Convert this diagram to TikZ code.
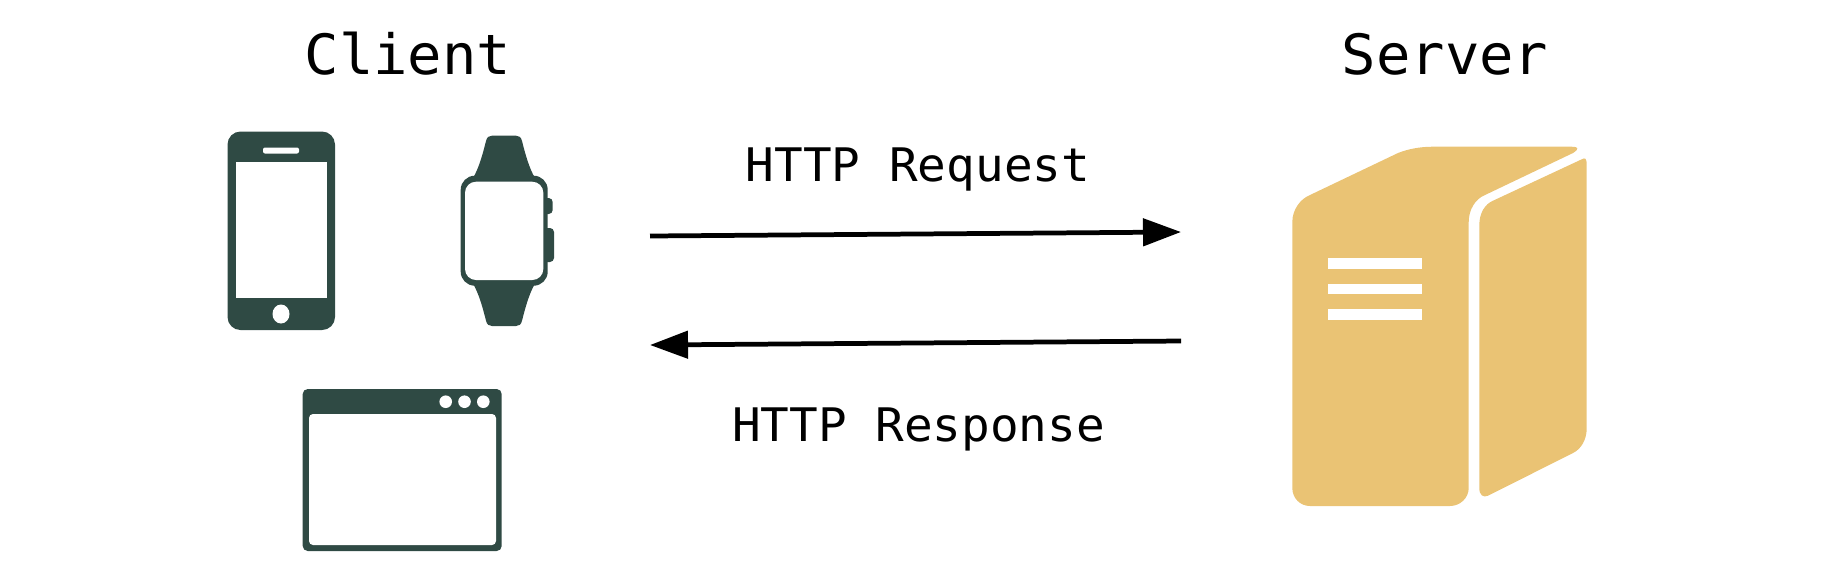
\documentclass[tikz,border=0pt]{standalone}
\usepackage{fontspec}
\setmonofont[FakeStretch=1.03]{DejaVu Sans Mono}
\usetikzlibrary{arrows.meta}
\definecolor{icongreen}{HTML}{2F4A44}
\definecolor{servergold}{HTML}{EAC374}
\tikzset{
  heading/.style={anchor=base, inner sep=0pt, font=\ttfamily\fontsize{15.8pt}{18pt}\selectfont},
  message/.style={anchor=base, inner sep=0pt, font=\ttfamily\fontsize{13.15pt}{16pt}\selectfont},
  icon/.style={fill=icongreen},
  hole/.style={fill=white},
  server/.style={fill=servergold}
}

\begin{document}
\begin{tikzpicture}[x=0.01cm,y=-0.01cm,->,>={Triangle[length=3.8mm,width=2.7mm]},
    line width=1.35pt]
  \useasboundingbox (0,0) rectangle (1840,572);

  \node[heading] (client) at (408,74) {Client};
  \node[heading] (srv) at (1445,74) {Server};
  \node[message] (req) at (918,181) {HTTP Request};
  \node[message] (resp) at (918.5,441) {HTTP Response};

  \coordinate (reqstart) at (650,236);
  \coordinate (reqend) at (1181,232);
  \coordinate (respstart) at (1181,341);
  \coordinate (respend) at (650,345);
  \path (reqstart) edge (reqend)
  (respstart) edge (respend);

  % phone
  \fill[icon, rounded corners=1.3mm] (227.5,131.5) rectangle (335,330);
  \fill[hole] (235.5,162) rectangle (326.5,298);
  \fill[hole, rounded corners=0.2mm] (263,147.5) rectangle (299,153.5);
  \fill[hole] (281,314) ellipse [x radius=8.5, y radius=9.5];

  % watch
  \fill[icon] (473,178) .. controls (479,168) and (483,153) .. (486,141)
  .. controls (487,137) and (489,135.7) .. (492,135.7) -- (516,135.7)
  .. controls (519,135.7) and (521,137) .. (522,141)
  .. controls (525,153) and (529,168) .. (535,178) -- cycle;
  \fill[icon] (473,283.7) .. controls (479,293.7) and (483,308.7) .. (486,320.7)
  .. controls (487,324.7) and (489,326) .. (492,326) -- (516,326)
  .. controls (519,326) and (521,324.7) .. (522,320.7)
  .. controls (525,308.7) and (529,293.7) .. (535,283.7) -- cycle;
  \fill[icon, rounded corners=0.4mm] (540,198) rectangle (552.7,214);
  \fill[icon, rounded corners=0.4mm] (540,228) rectangle (554,262);
  \fill[icon, rounded corners=1.4mm] (460.7,175.7) rectangle (547.7,285.7);
  \fill[hole, rounded corners=1.1mm] (465,181.7) rectangle (543.3,280);

  % browser
  \fill[icon, rounded corners=0.5mm] (302.7,389) rectangle (501.7,551);
  \fill[hole, rounded corners=0.4mm] (309,414) rectangle (496,545);
  \fill[hole] (445.7,401.7) circle [radius=6.3];
  \fill[hole] (464.5,401.7) circle [radius=6.3];
  \fill[hole] (483.3,401.7) circle [radius=6.3];

  % server
  \fill[server] (1292.3,222) .. controls (1292.3,210) and (1300,199) .. (1310,195)
  -- (1398,153) .. controls (1408,149) and (1420,146.7) .. (1433,146.7)
  -- (1571.7,146.7) .. controls (1578,146.7) and (1580,148.5) .. (1573,153)
  -- (1485,195) .. controls (1475,199) and (1468.7,210) .. (1468.7,222)
  -- (1468.7,488) .. controls (1468.7,498) and (1460,506) .. (1450,506)
  -- (1310,506) .. controls (1300,506) and (1292.3,498) .. (1292.3,488) -- cycle;
  \fill[server] (1479.3,225) .. controls (1479.3,213) and (1485,204) .. (1493,200.7)
  -- (1581.7,159.3) .. controls (1585,157.5) and (1586.7,158) .. (1586.7,165)
  -- (1586.7,428) .. controls (1586.7,440) and (1581,449) .. (1573,453)
  -- (1488,495.7) .. controls (1483,498) and (1479.3,495) .. (1479.3,488) -- cycle;
  \fill[hole] (1328,258.3) rectangle (1422,269);
  \fill[hole] (1328,283.7) rectangle (1422,294.3);
  \fill[hole] (1328,309) rectangle (1422,319.7);
\end{tikzpicture}
\end{document}
